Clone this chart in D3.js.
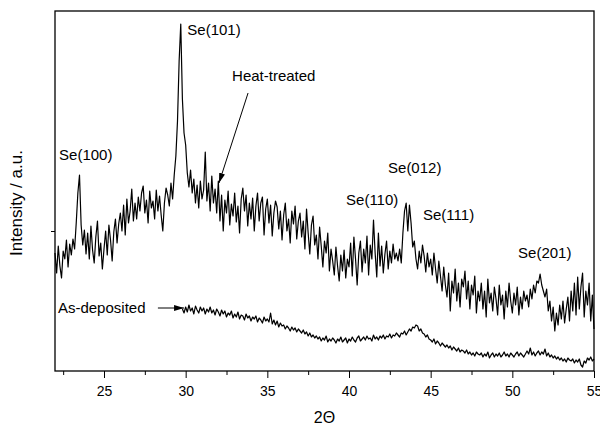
<!DOCTYPE html>
<html>
<head>
<meta charset="utf-8">
<script src="https://cdn.jsdelivr.net/npm/d3@7/dist/d3.min.js"></script>
<style>
  body { margin: 0; background: #fff; }
  text { font-family: Arial, "Liberation Sans", sans-serif; fill: #000; }
  .axis path, .axis line { stroke: #000; }
</style>
</head>
<body>
<div id="chart"></div>
<script>
// scans on a 0.1 deg 2-theta grid
var step = 0.1;
var heatStart = 22.0;
var asDepStart = 29.8;

// intensity (a.u.), heat-treated film, 22.0 .. 55.0
var heatTreated = [
  118, 98, 125, 105, 93, 120, 112, 131, 104, 127,
  116, 132, 122, 148, 178, 196, 146, 126, 141, 117,
  138, 112, 145, 121, 108, 134, 150, 115, 128, 102,
  122, 140, 116, 146, 131, 110, 139, 152, 128, 147,
  158, 140, 166, 136, 172, 148, 160, 182, 150, 168,
  152, 174, 160, 178, 185, 158, 171, 148, 180, 163,
  170, 152, 181, 160, 175, 156, 140, 168, 183, 176,
  165, 188, 172, 196, 215, 250, 310, 347, 272, 238,
  226, 198, 184, 201, 178, 192, 168, 186, 163, 190,
  172, 181, 219, 170, 188, 160, 195, 168, 182, 158,
  190, 150, 176, 140, 171, 158, 180, 146, 167, 155,
  178, 149, 165, 138, 172, 183, 160, 176, 145, 168,
  152, 173, 140, 165, 178, 150, 168, 174, 136, 162,
  172, 148, 166, 135, 158, 170, 164, 142, 160, 131,
  156, 168, 140, 152, 128, 160, 147, 165, 132, 150,
  158, 134, 150, 122, 162, 138, 117, 146, 155, 126,
  136, 112, 144, 125, 104, 130, 118, 138, 100, 122,
  110, 96, 124, 105, 90, 116, 100, 121, 93, 112,
  104, 128, 95, 134, 112, 86, 118, 130, 99, 122,
  108, 135, 96, 126, 112, 151, 118, 94, 138, 105,
  125, 98, 117, 130, 102, 120, 108, 127, 112, 118,
  110, 122, 108, 138, 160, 168, 140, 166, 148, 124,
  130, 112, 102, 120, 108, 126, 115, 99, 118, 104,
  112, 96, 118, 102, 88, 110, 95, 80, 104, 86,
  74, 98, 60, 90, 78, 102, 70, 88, 64, 92,
  84, 100, 72, 90, 62, 86, 76, 95, 58, 80,
  70, 88, 62, 80, 54, 92, 68, 78, 60, 84,
  72, 56, 86, 66, 76, 52, 80, 64, 88, 70,
  58, 78, 66, 84, 56, 74, 62, 80, 70, 76,
  64, 82, 72, 86, 78, 90, 88, 97, 86, 80,
  74, 82, 60, 70, 50, 64, 40, 58, 46, 66,
  52, 70, 48, 62, 74, 50, 80, 60, 88, 56,
  94, 62, 84, 98, 54, 80, 66, 88, 50, 76,
  42
];

// intensity (a.u.), as-deposited film, 29.8 .. 55.0
var asDeposited = [
  62, 58,
  64, 59, 66, 60, 63, 57, 65, 61, 58, 64,
  60, 63, 57, 62, 59, 64, 58, 61, 56, 62,
  59, 55, 61, 57, 60, 54, 58, 56, 60, 53,
  57, 54, 59, 52, 56, 55, 51, 57, 53, 55,
  50, 54, 52, 55, 49, 53, 51, 48, 54, 50,
  52, 49, 58, 47, 51, 46, 50, 44, 48, 45,
  46, 42, 45, 43, 40, 44, 41, 43, 39, 42,
  40, 38, 41, 37, 39, 35, 38, 34, 36, 33,
  35, 32, 34, 30, 33, 31, 35, 29, 32, 30,
  33, 31, 28, 32, 30, 34, 29, 31, 33, 28,
  32, 30, 34, 31, 29, 33, 35, 30, 32, 34,
  31, 35, 32, 33, 30, 36, 32, 34, 31, 35,
  33, 36, 32, 35, 34, 37, 33, 36, 35, 38,
  36, 34, 38, 37, 40, 36, 39, 42, 40, 44,
  43, 46, 45, 40, 42, 38, 37, 34, 36, 32,
  31, 29, 32, 27, 30, 28, 25, 28, 26, 24,
  26, 23, 25, 21, 24, 22, 20, 23, 19, 21,
  20, 18, 21, 17, 19, 16, 18, 15, 19, 17,
  16, 18, 14, 17, 15, 19, 13, 16, 18, 14,
  17, 15, 18, 14, 16, 19, 15, 17, 14, 18,
  16, 14, 17, 19, 15, 18, 16, 14, 17, 20,
  17, 23, 16, 19, 15, 18, 20, 16, 19, 17,
  22, 15, 18, 14, 16, 13, 15, 12, 14, 11,
  13, 10, 12, 9, 13, 11, 10, 12, 8, 11,
  9, 12, 6, 4, 10, 8, 13, 11, 14, 10,
  12
];

var xTicks = [25, 30, 35, 40, 45, 50, 55];
var xMinorTicks = [22.5, 27.5, 32.5, 37.5, 42.5, 47.5, 52.5];
var yTicks = [140];

// labels: text, left edge 2theta, baseline intensity
var peakLabels = [
  { text: "Se(100)", t: 22.25, v: 211 },
  { text: "Se(101)", t: 30.1, v: 336 },
  { text: "Heat-treated", t: 32.84, v: 290 },
  { text: "Se(110)", t: 39.82, v: 166 },
  { text: "Se(012)", t: 42.39, v: 198 },
  { text: "Se(111)", t: 44.53, v: 151 },
  { text: "Se(201)", t: 50.35, v: 113 },
  { text: "As-deposited", t: 22.18, v: 58 }
];

var arrows = [
  { from: [33.82, 278], to: [32.04, 188] },
  { from: [28.3, 63], to: [29.9, 63] }
];

var margin = { top: 11, right: 6, bottom: 57, left: 55 },
    outerWidth = 600,
    outerHeight = 428,
    width = outerWidth - margin.left - margin.right,
    height = outerHeight - margin.top - margin.bottom;

var x = d3.scaleLinear()
    .domain([22, 55])
    .range([0, width]);

var y = d3.scaleLinear()
    .domain([0, 360])
    .range([height, 0]);

var svg = d3.select("#chart").append("svg")
    .attr("width", outerWidth)
    .attr("height", outerHeight)
  .append("g")
    .attr("transform", "translate(" + margin.left + "," + margin.top + ")");

svg.append("defs").append("marker")
    .attr("id", "head")
    .attr("viewBox", "0 0 10 6")
    .attr("refX", 10)
    .attr("refY", 3)
    .attr("markerWidth", 10)
    .attr("markerHeight", 6)
    .attr("markerUnits", "userSpaceOnUse")
    .attr("orient", "auto")
  .append("path")
    .attr("d", "M0,0L10,3L0,6z")
    .attr("fill", "#000");

var line = d3.line()
    .x(d => x(d[0]))
    .y(d => y(d[1]));

function series(start, vals) {
  return vals.map((v, i) => [start + i * step, v]);
}

svg.append("g")
  .selectAll("path")
  .data([series(heatStart, heatTreated), series(asDepStart, asDeposited)])
  .join("path")
    .attr("fill", "none")
    .attr("stroke", "#000")
    .attr("stroke-width", 1.2)
    .attr("stroke-linejoin", "round")
    .attr("d", line);

// frame
svg.append("rect")
    .attr("width", width)
    .attr("height", height)
    .attr("fill", "none")
    .attr("stroke", "#000")
    .attr("stroke-width", 1.3);

var xAxis = d3.axisBottom(x)
    .tickValues(xTicks)
    .tickSize(7)
    .tickPadding(8)
    .tickFormat(d3.format("d"));

svg.append("g")
    .attr("class", "x axis")
    .attr("transform", "translate(0," + height + ")")
    .call(xAxis)
    .call(g => g.select(".domain").remove())
    .call(g => g.selectAll("text").attr("font-size", "14px"));

svg.append("g")
    .attr("class", "x axis minor")
    .attr("transform", "translate(0," + height + ")")
    .call(d3.axisBottom(x).tickValues(xMinorTicks).tickSize(4).tickFormat(""))
    .call(g => g.select(".domain").remove());

svg.append("g")
    .attr("class", "y axis")
    .call(d3.axisLeft(y).tickValues(yTicks).tickSize(4).tickFormat(""))
    .call(g => g.select(".domain").remove());

svg.append("text")
    .attr("transform", `translate(${width / 2}, ${height + 52})`)
    .attr("text-anchor", "middle")
    .attr("font-size", "16px")
    .text("2\u0398");

svg.append("text")
    .attr("transform", `translate(-33, 192) rotate(-90)`)
    .attr("text-anchor", "middle")
    .attr("font-size", "17px")
    .text("Intensity / a.u.");

svg.append("g")
  .selectAll("text")
  .data(peakLabels)
  .join("text")
    .attr("x", d => x(d.t))
    .attr("y", d => y(d.v))
    .attr("font-size", "15px")
    .text(d => d.text);

svg.append("g")
  .selectAll("line")
  .data(arrows)
  .join("line")
    .attr("x1", d => x(d.from[0]))
    .attr("y1", d => y(d.from[1]))
    .attr("x2", d => x(d.to[0]))
    .attr("y2", d => y(d.to[1]))
    .attr("stroke", "#000")
    .attr("stroke-width", 1)
    .attr("marker-end", "url(#head)");
</script>
</body>
</html>
